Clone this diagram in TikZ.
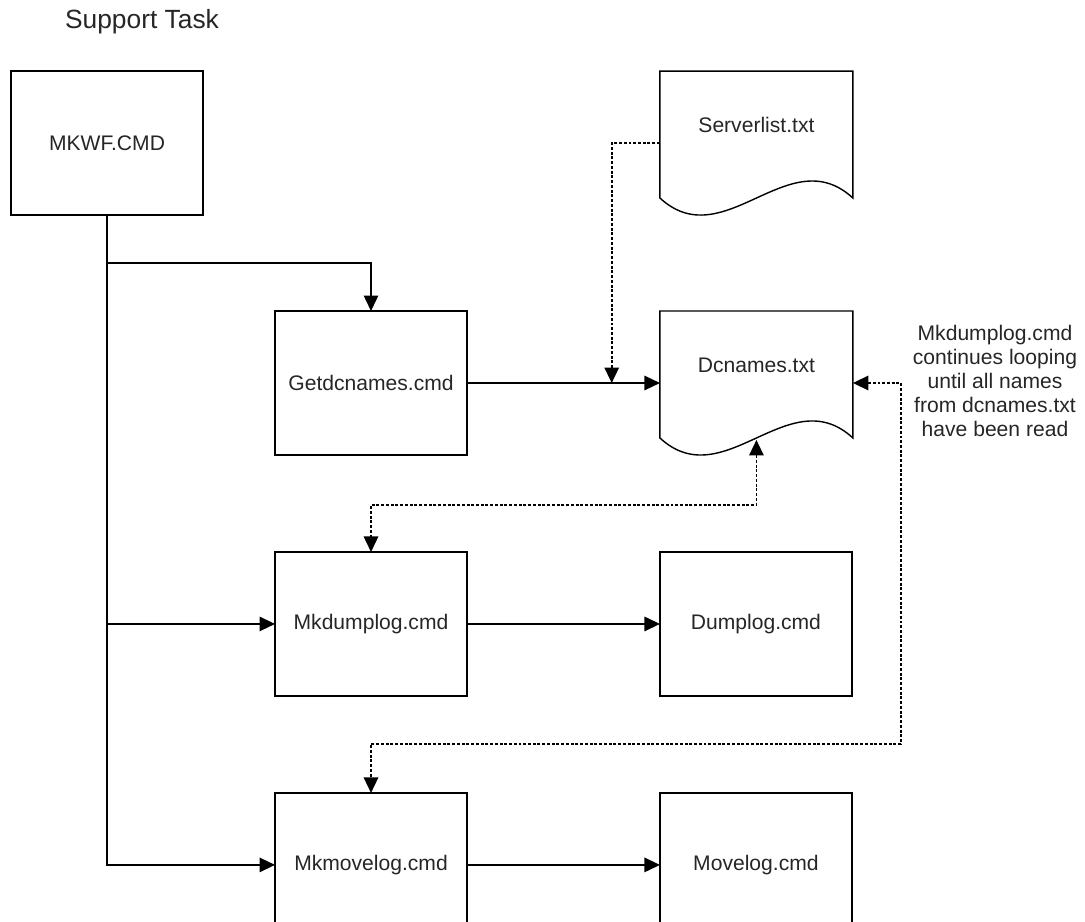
\documentclass[tikz,border=0pt]{standalone}
\usepackage{fontspec}
\setmainfont{Liberation Sans}
\usetikzlibrary{arrows.meta,positioning,calc}

% outline of a document (wavy bottom) round a node
\newcommand{\docoutline}[1]{%
  \draw[line width=0.8pt] (#1.north west) -- ([yshift=0.34cm]#1.south west)
    .. controls ([xshift=1.28cm,yshift=-0.84cm]#1.south west) and ([xshift=-1.28cm,yshift=1.52cm]#1.south east) ..
    ([yshift=0.34cm]#1.south east) -- (#1.north east) -- cycle;}

\begin{document}
\begin{tikzpicture}[
    x=0.02cm, y=-0.02cm,
    font=\fontsize{12}{13.6}\selectfont,
    text=black!85,
    >={Triangle[length=0.31cm,width=0.29cm]},
    cmdbox/.style={rectangle, draw, line width=0.8pt, minimum width=3.84cm, minimum height=2.88cm, inner sep=0pt, outer sep=0pt},
    docfile/.style={rectangle, minimum width=3.86cm, minimum height=2.88cm, inner sep=0pt, outer sep=0pt, text height=0.3cm, text depth=0.72cm},
    arrow/.style={->, line width=0.8pt},
    dotarrow/.style={arrow, line width=0.9pt, dash pattern=on 1.7pt off 1pt}
]
    \useasboundingbox (0,0) rectangle (1085,922);

    \node[font=\fontsize{15}{17}\selectfont] (title) at (142,22) {Support Task};

    \node[cmdbox] (mkwf) at (107,143) {MKWF.CMD};
    \node[cmdbox] (getdc) at (371,383) {Getdcnames.cmd};
    \node[docfile, right=3.86cm of getdc] (dc) {Dcnames.txt};
    \node[docfile, above=1.92cm of dc] (srv) {Serverlist.txt};
    \node[cmdbox, below=1.94cm of getdc] (mkdump) {Mkdumplog.cmd};
    \node[cmdbox, right=3.86cm of mkdump] (dump) {Dumplog.cmd};
    \node[cmdbox, below=1.94cm of mkdump] (mkmove) {Mkmovelog.cmd};
    \node[cmdbox, right=3.86cm of mkmove] (move) {Movelog.cmd};
    \docoutline{dc}
    \docoutline{srv}

    \node[align=center] (note) at (995,381) {Mkdumplog.cmd\\continues looping\\until all names\\from dcnames.txt\\have been read};

    % main flow
    \coordinate (split) at (107,263);
    \draw[arrow] (mkwf.south) |- (mkmove.west);
    \draw[arrow] (split) -| (getdc.north);
    \draw[arrow] (mkwf.south |- mkdump.west) -- (mkdump.west);
    \draw[arrow] (getdc) -- (dc);
    \draw[arrow] (mkdump) -- (dump);
    \draw[arrow] (mkmove) -- (move);

    % file reads
    \draw[dotarrow] (srv.west) -| ($(getdc.east)!0.75!(dc.west)$);
    \draw[dotarrow, <->] ([yshift=0.3cm]dc.south) |- ([yshift=0.94cm]mkdump.north) -- (mkdump.north);
    \draw[dotarrow, <->] (dc.east) -- ++(0.96cm,0) |- ([yshift=0.98cm]mkmove.north) -- (mkmove.north);
\end{tikzpicture}
\end{document}
